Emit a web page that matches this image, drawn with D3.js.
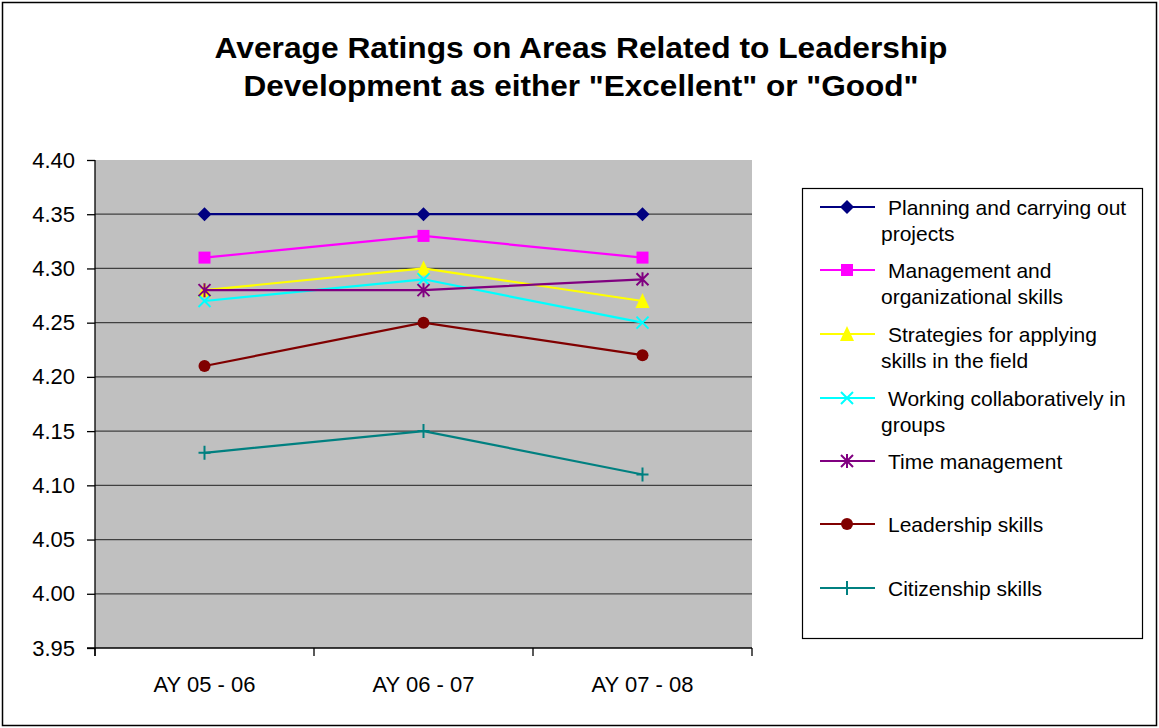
<!DOCTYPE html>
<html><head><meta charset="utf-8">
<script src="https://cdn.jsdelivr.net/npm/d3@7"></script>
<style>body{margin:0;background:#fff}svg{display:block}text{font-family:"Liberation Sans",Arial,sans-serif}</style>
</head><body>
<script>
const categories = ["AY 05 - 06", "AY 06 - 07", "AY 07 - 08"];
const seriesNames = [
  ["Planning and carrying out", "projects"],
  ["Management and", "organizational skills"],
  ["Strategies for applying", "skills in the field"],
  ["Working collaboratively in", "groups"],
  ["Time management"],
  ["Leadership skills"],
  ["Citizenship skills"]
];
const planning = [4.35, 4.35, 4.35];
const management = [4.31, 4.33, 4.31];
const strategies = [4.28, 4.30, 4.27];
const working = [4.27, 4.29, 4.25];
const timeMgmt = [4.28, 4.28, 4.29];
const leadership = [4.21, 4.25, 4.22];
const citizenship = [4.13, 4.15, 4.11];
const yTicks = [3.95, 4.00, 4.05, 4.10, 4.15, 4.20, 4.25, 4.30, 4.35, 4.40];
const titleLines = ["Average Ratings on Areas Related to Leadership", "Development as either \"Excellent\" or \"Good\""];

const colors = ["#000080", "#FF00FF", "#FFFF00", "#00FFFF", "#800080", "#800000", "#008080"];
const markers = ["diamond", "square", "triangle", "x", "star", "circle", "plus"];
const allSeries = [planning, management, strategies, working, timeMgmt, leadership, citizenship];

const W = 1159, H = 728;
const svg = d3.select("body").append("svg").attr("width", W).attr("height", H);
svg.append("rect").attr("x", 2.5).attr("y", 2.5).attr("width", W - 5).attr("height", H - 5)
  .attr("fill", "#fff").attr("stroke", "#000").attr("stroke-width", 1.5);

const plot = {left: 95, right: 752, top: 160, bottom: 648};
const x = d3.scaleBand().domain(categories).range([plot.left, plot.right]);
const y = d3.scaleLinear().domain([3.95, 4.40]).range([plot.bottom, plot.top]);

// title
const titleW = [733, 675];
svg.append("g").selectAll("text").data(titleLines).join("text")
  .attr("x", 581).attr("y", (d, i) => 58 + i * 38)
  .attr("text-anchor", "middle").attr("font-size", 30).attr("font-weight", "bold")
  .attr("textLength", (d, i) => titleW[i]).attr("lengthAdjust", "spacingAndGlyphs")
  .text(d => d);

// plot bg
svg.append("rect").attr("x", plot.left).attr("y", plot.top)
  .attr("width", plot.right - plot.left).attr("height", plot.bottom - plot.top).attr("fill", "#C0C0C0");

// gridlines
svg.append("g").selectAll("line").data(yTicks.filter(v => v > 3.951 && v < 4.399)).join("line")
  .attr("x1", plot.left).attr("x2", plot.right).attr("y1", d => y(d)).attr("y2", d => y(d))
  .attr("stroke", "#404040").attr("stroke-width", 1.3);

// y axis
const yAxis = d3.axisLeft(y).tickValues(yTicks).tickFormat(d3.format(".2f")).tickSize(8).tickPadding(12);
const gy = svg.append("g").attr("transform", `translate(${plot.left},0)`).call(yAxis);
gy.select(".domain").attr("stroke", "#000").attr("stroke-width", 1.3).attr("d", `M0,${plot.top}V${plot.bottom + 8}`);
gy.selectAll(".tick line").attr("stroke", "#000").attr("stroke-width", 1.3);
gy.selectAll("text").attr("font-size", 22).attr("fill", "#000").attr("font-family", "Liberation Sans, Arial, sans-serif");

// x axis
const xAxis = d3.axisBottom(x).tickSize(0).tickPadding(28);
const gx = svg.append("g").attr("transform", `translate(0,${plot.bottom})`).call(xAxis);
gx.select(".domain").attr("stroke", "#000").attr("stroke-width", 1.3).attr("d", `M${plot.left - 8},0H${plot.right}`);
gx.selectAll("text").attr("font-size", 22).attr("fill", "#000").attr("font-family", "Liberation Sans, Arial, sans-serif");
const edges = categories.map(c => x(c)).concat([x(categories[categories.length - 1]) + x.bandwidth()]);
gx.selectAll(".edge").data(edges).join("line").attr("class", "edge")
  .attr("x1", d => d).attr("x2", d => d).attr("y1", 0).attr("y2", 8)
  .attr("stroke", "#000").attr("stroke-width", 1.3);

function drawMarker(g, type, color, cx, cy) {
  const s = g.append("g").attr("transform", `translate(${cx},${cy})`);
  if (type === "diamond") s.append("path").attr("d", "M0,-7L7,0L0,7L-7,0Z").attr("fill", color);
  else if (type === "square") s.append("rect").attr("x", -6).attr("y", -6).attr("width", 12).attr("height", 12).attr("fill", color);
  else if (type === "triangle") s.append("path").attr("d", "M0,-8L7,7L-7,7Z").attr("fill", color);
  else if (type === "circle") s.append("circle").attr("r", 6).attr("fill", color);
  else if (type === "x") s.append("path").attr("d", "M-6,-6L6,6M-6,6L6,-6").attr("stroke", color).attr("stroke-width", 2).attr("fill", "none");
  else if (type === "star") s.append("path").attr("d", "M-6,-6L6,6M-6,6L6,-6M0,-7V7").attr("stroke", color).attr("stroke-width", 2).attr("fill", "none");
  else if (type === "plus") s.append("path").attr("d", "M-6,0H6M0,-7V7").attr("stroke", color).attr("stroke-width", 2).attr("fill", "none");
}

const cxOf = c => x(c) + x.bandwidth() / 2;
const line = d3.line().x((d, i) => cxOf(categories[i])).y(d => y(d));
allSeries.forEach((vals, si) => {
  const g = svg.append("g");
  g.append("path").datum(vals).attr("d", line).attr("fill", "none").attr("stroke", colors[si]).attr("stroke-width", 2.2);
  vals.forEach((v, i) => drawMarker(g, markers[si], colors[si], cxOf(categories[i]), y(v)));
});

// legend
svg.append("rect").attr("x", 802.5).attr("y", 188.5).attr("width", 340).attr("height", 450)
  .attr("fill", "#fff").attr("stroke", "#000").attr("stroke-width", 1.2);
const legendY = [207, 270, 334, 398, 461, 524, 588];
seriesNames.forEach((lines, si) => {
  const g = svg.append("g");
  const ly = legendY[si];
  g.append("line").attr("x1", 820).attr("x2", 875).attr("y1", ly).attr("y2", ly).attr("stroke", colors[si]).attr("stroke-width", 2);
  drawMarker(g, markers[si], colors[si], 847, ly);
  lines.forEach((t, li) => {
    g.append("text").attr("x", li === 0 ? 888 : 881).attr("y", ly + 8 + li * 26)
      .attr("font-size", 21).attr("fill", "#000").text(t);
  });
});
</script>
</body></html>
